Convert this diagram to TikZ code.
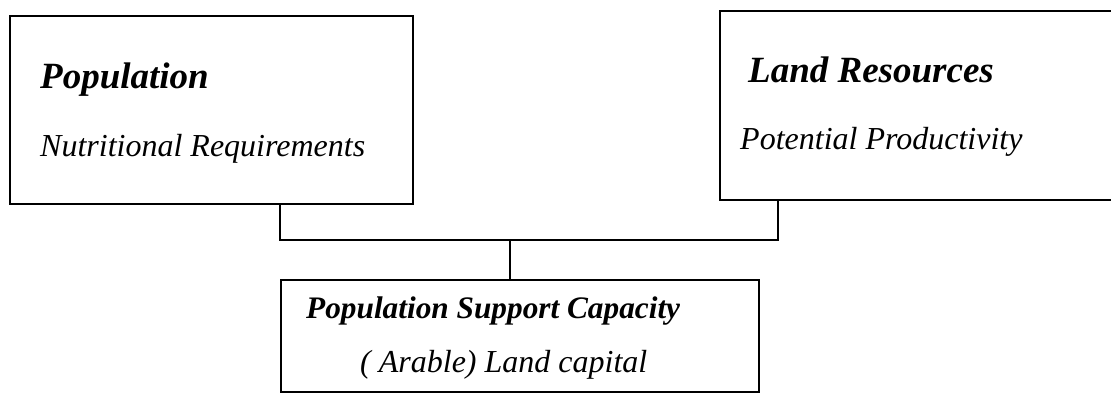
\documentclass[tikz,border=0pt]{standalone}
\usepackage{fontspec}
\setmainfont{Liberation Serif}
\tikzset{
  box/.style={draw, line width=1.6pt, rectangle, inner sep=0pt, outer sep=0pt, anchor=north west},
  ttl/.style={anchor=base west, inner sep=0pt, font=\fontsize{37}{40}\selectfont\bfseries\itshape},
  sttl/.style={anchor=base west, inner sep=0pt, font=\fontsize{31.3}{34}\selectfont\bfseries\itshape},
  sub/.style={anchor=base west, inner sep=0pt, font=\fontsize{32}{35}\selectfont\itshape},
  conn/.style={line width=1.4pt}
}
\begin{document}
\begin{tikzpicture}[x=1pt,y=-1pt]
\useasboundingbox (0,0) rectangle (1111,394);
\node[box, minimum width=403pt, minimum height=188pt] (pop) at (10,16) {};
\node[box, minimum width=420pt, minimum height=189pt] (land) at (720,11) {};
\node[box, minimum width=478pt, minimum height=112pt] (psc) at (281,280) {};
\node[ttl] (t1) at (40,88) {Population};
\node[sub] (s1) at (40,156) {Nutritional Requirements};
\node[ttl] (t2) at (748,82) {Land Resources};
\node[sub] (s2) at (740,149) {Potential Productivity};
\node[sttl] (t3) at (306,318) {Population Support Capacity};
\node[sub] (s3) at (360,372) {( Arable) Land capital};
\coordinate (j) at (510,240);
\draw[conn] ([xshift=270pt]pop.south west) |- (j) -| ([xshift=58pt]land.south west);
\draw[conn] (j) -- ([xshift=229pt]psc.north west);
\end{tikzpicture}
\end{document}
